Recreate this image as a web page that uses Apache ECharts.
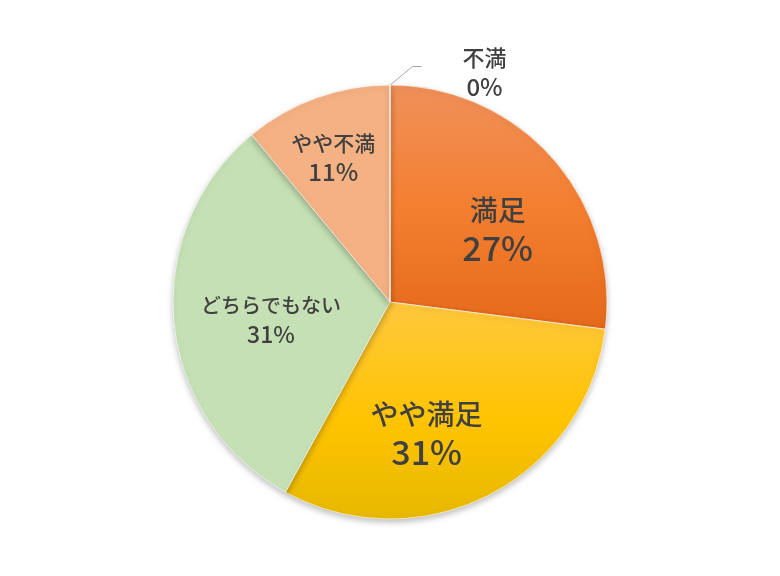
<!DOCTYPE html>
<html>
<head>
<meta charset="utf-8">
<script src="https://cdn.jsdelivr.net/npm/echarts@6/dist/echarts.min.js"></script>
<style>
html,body{margin:0;padding:0;background:#fff;}
#c{width:780px;height:576px;}
</style>
</head>
<body>
<div id="c"></div>
<script>
const categories = ['満足', 'やや満足', 'どちらでもない', 'やや不満', '不満'];
const values = [27, 31, 31, 11, 0];

const fills = [
  {type:'linear',x:0,y:0,x2:0,y2:1,colorStops:[{offset:0,color:'#F0905A'},{offset:0.5,color:'#F47F30'},{offset:1,color:'#E4691B'}]},
  {type:'linear',x:0,y:0,x2:0,y2:1,colorStops:[{offset:0,color:'#FFC83E'},{offset:0.55,color:'#FFC400'},{offset:1,color:'#E6B800'}]},
  '#C5E0B4',
  '#F4B183',
  '#BFBFBF'
];
// [name font, percent font]
const labelSizes = [[28, 34], [28, 34], [20, 23], [21, 24], [22, 24]];
const labelOffsets = [[24, 2], [-14, 33], [-8, 8], [-19, -39], [0, 0]];

const FONT = '"Noto Sans CJK JP", "Noto Sans", sans-serif';
const chart = echarts.init(document.getElementById('c'));
const data = categories.map((name, i) => {
  const [ns, ps] = labelSizes[i];
  const big = ns >= 26;
  const item = {
    name: name,
    value: values[i],
    itemStyle: {color: fills[i]},
    label: {
      offset: labelOffsets[i],
      rich: {
        n: {fontSize: ns, lineHeight: big ? 36 : 28, color: '#404040', fontFamily: FONT, fontWeight: 500},
        p: {fontSize: ps, lineHeight: big ? 40 : 30, color: '#404040', fontFamily: FONT, fontWeight: 500}
      }
    }
  };
  if (values[i] === 0) {
    item.label.position = 'outside';
    item.labelLine = {show: true, length: 18, length2: 8, lineStyle: {color: '#A6A6A6', width: 1}};
  }
  return item;
});

chart.setOption({
  animation: false,
  series: [{
    type: 'pie',
    center: [390, 302],
    radius: 217,
    startAngle: 90,
    clockwise: true,
    stillShowZeroSum: true,
    avoidLabelOverlap: false,
    itemStyle: {
      borderColor: 'rgba(255,255,255,0.6)',
      borderWidth: 1,
      shadowBlur: 6,
      shadowOffsetY: 3,
      shadowColor: 'rgba(0,0,0,0.25)'
    },
    label: {
      show: true,
      position: 'inside',
      align: 'center',
      color: '#404040',
      fontFamily: FONT,
      formatter: p => '{n|' + p.name + '}\n{p|' + Math.round(p.value) + '%}'
    },
    labelLine: {show: false},
    labelLayout: function (params) {
      if (values[params.dataIndex] === 0) {
        const r = params.rect;
        return {
          x: r.x + 95, y: r.y - 12, align: 'center', verticalAlign: 'middle',
          labelLinePoints: [[r.x, r.y + 1], [r.x + 23, r.y - 18], [r.x + 32, r.y - 18]]
        };
      }
      return {};
    },
    emphasis: {disabled: true},
    data: data
  }]
});
</script>
</body>
</html>
